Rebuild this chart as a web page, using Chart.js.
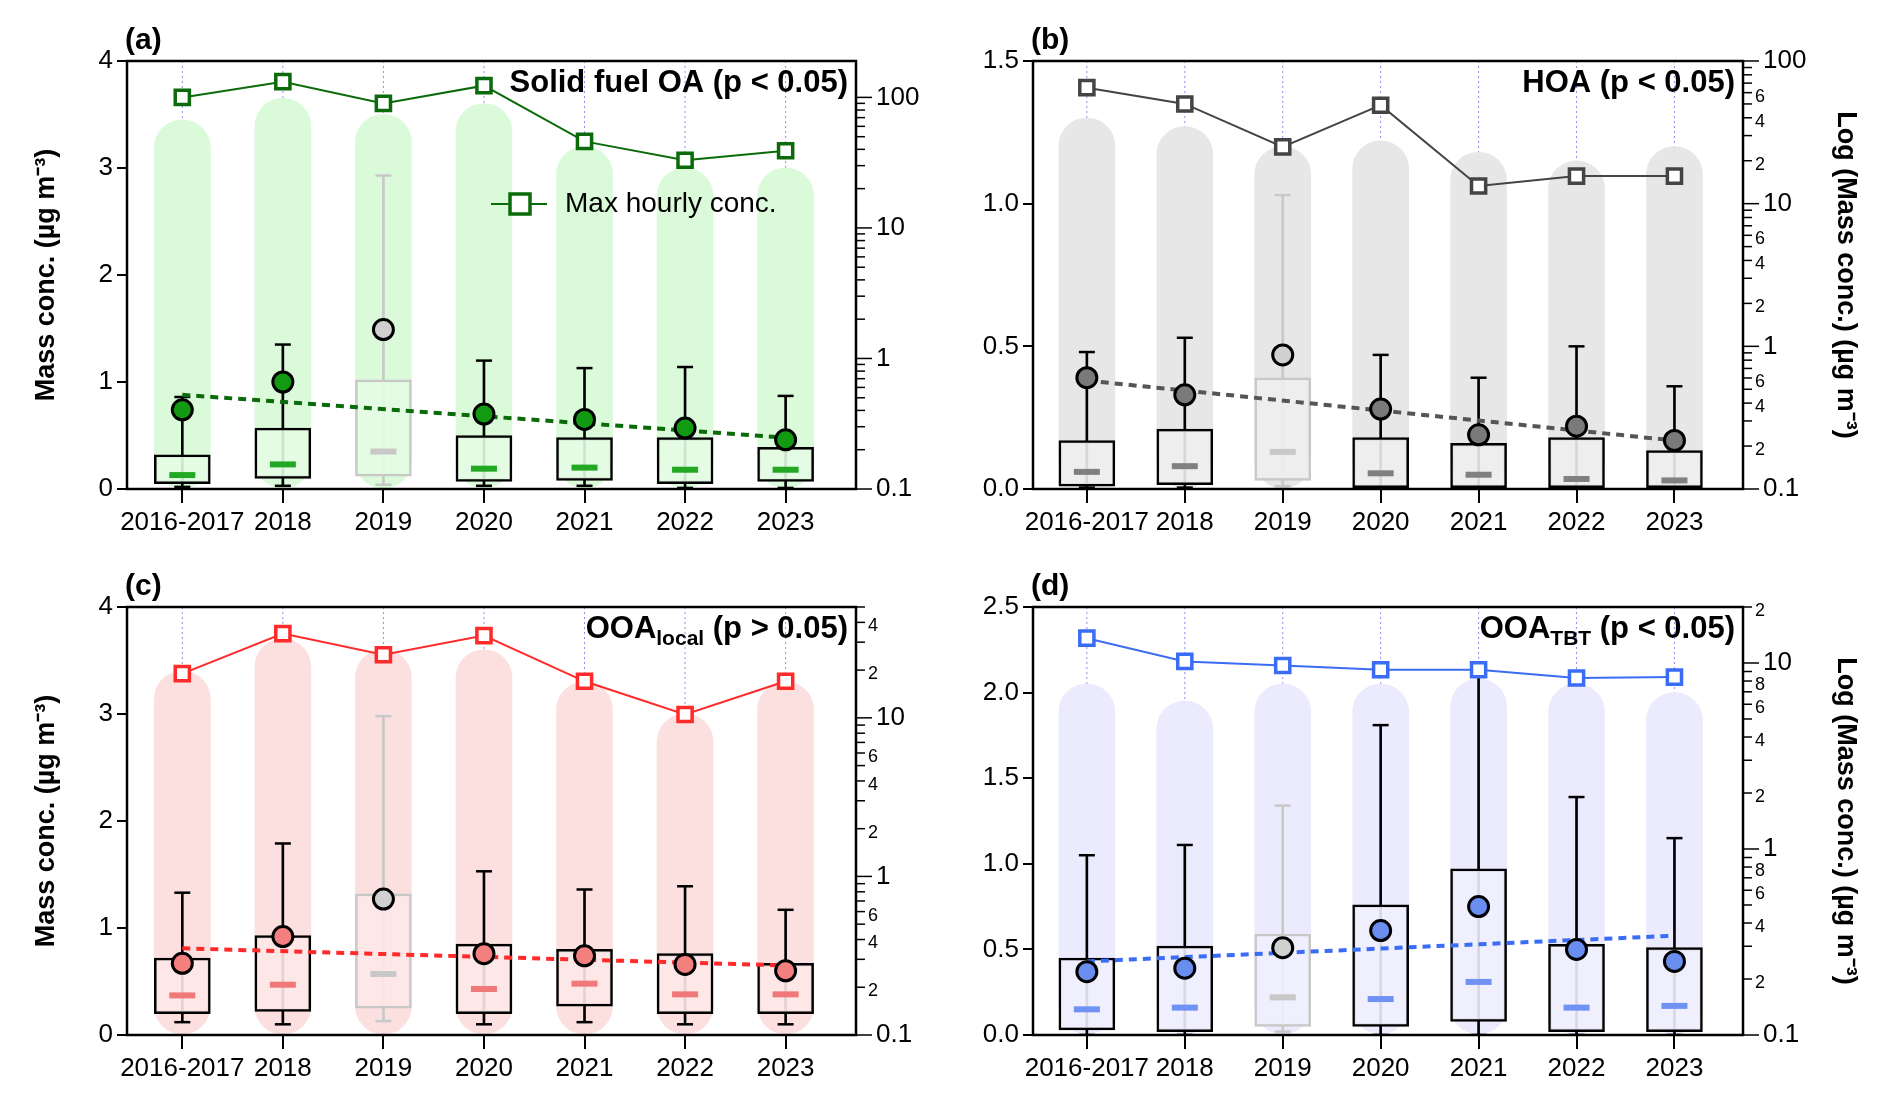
<!DOCTYPE html>
<html>
<head>
<meta charset="utf-8">
<script src="https://cdn.jsdelivr.net/npm/chart.js@4"></script>
<style>
  body { margin: 0; background: #fff; }
  .panel { position: absolute; }
</style>
</head>
<body>
<div class="panel" style="left:0;top:0;width:946px;height:549px"><canvas id="pa"></canvas></div>
<div class="panel" style="left:946px;top:0;width:946px;height:549px"><canvas id="pb"></canvas></div>
<div class="panel" style="left:0;top:549px;width:946px;height:550px"><canvas id="pc"></canvas></div>
<div class="panel" style="left:946px;top:549px;width:946px;height:550px"><canvas id="pd"></canvas></div>
<script>
var years = ["2016-2017", "2018", "2019", "2020", "2021", "2022", "2023"];

// (a) Solid fuel OA
var aLow = [0.02, 0.03, 0.04, 0.03, 0.03, 0.01, 0.01];
var aQ1 = [0.05, 0.10, 0.12, 0.07, 0.08, 0.05, 0.07];
var aMed = [0.13, 0.23, 0.35, 0.19, 0.20, 0.18, 0.18];
var aQ3 = [0.32, 0.57, 1.02, 0.50, 0.48, 0.48, 0.39];
var aHigh = [0.86, 1.35, 2.93, 1.20, 1.13, 1.14, 0.87];
var aMean = [0.74, 1.00, 1.49, 0.70, 0.65, 0.57, 0.46];
var aMax = [100, 132, 90, 123, 46, 33, 39];
var aCloud = [3.45, 3.65, 3.5, 3.6, 3.2, 3.0, 3.0];
var aTrend = [0.88, 0.48];

// (b) HOA
var bLow = [0.005, 0.005, 0.01, 0, 0, 0, 0];
var bQ1 = [0.01, 0.015, 0.03, 0.005, 0.005, 0.005, 0.005];
var bMed = [0.06, 0.08, 0.13, 0.055, 0.05, 0.035, 0.03];
var bQ3 = [0.17, 0.21, 0.39, 0.18, 0.16, 0.18, 0.135];
var bHigh = [0.48, 0.53, 1.03, 0.47, 0.39, 0.50, 0.36];
var bMean = [0.39, 0.33, 0.47, 0.28, 0.19, 0.22, 0.17];
var bMax = [65, 50, 25, 49, 13.3, 15.6, 15.6];
var bCloud = [1.3, 1.27, 1.2, 1.22, 1.18, 1.15, 1.2];
var bTrend = [0.38, 0.17];

// (c) OOA local
var cLow = [0.12, 0.10, 0.13, 0.10, 0.12, 0.10, 0.10];
var cQ1 = [0.20, 0.22, 0.25, 0.20, 0.27, 0.20, 0.20];
var cMed = [0.37, 0.47, 0.57, 0.43, 0.48, 0.38, 0.38];
var cQ3 = [0.72, 0.93, 1.32, 0.85, 0.80, 0.76, 0.67];
var cHigh = [1.33, 1.79, 2.98, 1.53, 1.36, 1.39, 1.17];
var cMean = [0.67, 0.92, 1.27, 0.76, 0.74, 0.66, 0.60];
var cMax = [19, 34, 25, 33, 17, 10.5, 17];
var cCloud = [3.4, 3.7, 3.6, 3.6, 3.3, 3.0, 3.3];
var cTrend = [0.81, 0.65];

// (d) OOA TBT
var dLow = [0, 0, 0.02, 0, 0, 0, 0];
var dQ1 = [0.03, 0.02, 0.05, 0.05, 0.08, 0.02, 0.02];
var dMed = [0.15, 0.16, 0.22, 0.21, 0.31, 0.16, 0.17];
var dQ3 = [0.45, 0.52, 0.59, 0.76, 0.97, 0.53, 0.51];
var dHigh = [1.05, 1.11, 1.34, 1.81, 2.10, 1.39, 1.15];
var dMean = [0.37, 0.39, 0.51, 0.61, 0.75, 0.50, 0.43];
var dMax = [13.6, 10.2, 9.7, 9.2, 9.2, 8.3, 8.4];
var dCloud = [2.05, 1.95, 2.05, 2.05, 2.08, 2.05, 2.0];
var dTrend = [0.43, 0.58];

var FONT = "'Liberation Sans', Arial, sans-serif";
var GREY = 2; // 2019 drawn in grey

function pts(arr) { return arr.map(function (v, i) { return { x: i, y: v }; }); }
function ranges(lo, hi) { return lo.map(function (v, i) { return { x: i, y: [v, hi[i]] }; }); }
function perYear(c, g) { return years.map(function (_, i) { return i === GREY ? g : c; }); }

var panelPlugin = {
  id: 'panelDeco',
  beforeDatasetsDraw: function (chart) {
    var ctx = chart.ctx, a = chart.chartArea, x = chart.scales.x;
    ctx.save();
    ctx.strokeStyle = '#8f8ff5';
    ctx.lineWidth = 1;
    ctx.setLineDash([2, 3]);
    years.forEach(function (_, i) {
      var px = x.getPixelForValue(i);
      ctx.beginPath(); ctx.moveTo(px, a.top); ctx.lineTo(px, a.bottom); ctx.stroke();
    });
    ctx.restore();
  },
  afterDraw: function (chart) {
    var o = chart.options.plugins.panelDeco, ctx = chart.ctx, a = chart.chartArea;
    ctx.save();
    ctx.strokeStyle = '#000'; ctx.lineWidth = 2.5;
    ctx.strokeRect(a.left, a.top, a.right - a.left, a.bottom - a.top);
    // right log axis ticks
    var y2 = chart.scales.y2;
    ctx.lineWidth = 1.5; ctx.fillStyle = '#000'; ctx.textBaseline = 'middle'; ctx.textAlign = 'left';
    for (var e = -1; e <= 3; e++) {
      for (var m = 1; m <= 9; m++) {
        var v = m * Math.pow(10, e);
        if (v < y2.min * 0.999 || v > y2.max * 1.001) continue;
        var py = y2.getPixelForValue(v);
        var len = m === 1 ? 16 : 9;
        ctx.beginPath(); ctx.moveTo(a.right, py); ctx.lineTo(a.right + len, py); ctx.stroke();
        if (m === 1) {
          ctx.font = '26px ' + FONT;
          ctx.fillText(String(+v.toPrecision(3)), a.right + 20, py);
        } else if (o.minorLabels.indexOf(m) >= 0) {
          ctx.font = '18px ' + FONT;
          ctx.fillText(String(m), a.right + 12, py + 4);
        }
      }
    }
    // panel letter
    ctx.font = 'bold 30px ' + FONT; ctx.textAlign = 'left'; ctx.textBaseline = 'alphabetic';
    ctx.fillText(o.letter, a.left - 2, a.top - 12);
    // panel title, right aligned
    var bigFont = 'bold 31px ' + FONT, subFont = 'bold 21px ' + FONT;
    ctx.font = bigFont;
    var w = ctx.measureText(o.title[0]).width + ctx.measureText(o.title[2]).width;
    ctx.font = subFont; w += ctx.measureText(o.title[1]).width;
    var tx = a.right - 8 - w, ty = a.top + 31;
    ctx.font = bigFont; ctx.fillText(o.title[0], tx, ty); tx += ctx.measureText(o.title[0]).width;
    ctx.font = subFont; ctx.fillText(o.title[1], tx, ty + 7); tx += ctx.measureText(o.title[1]).width;
    ctx.font = bigFont; ctx.fillText(o.title[2], tx, ty);
    if (o.legend) {
      var ly = a.top + 143, lx = a.left + 364;
      ctx.strokeStyle = o.legend; ctx.lineWidth = 2;
      ctx.beginPath(); ctx.moveTo(lx, ly); ctx.lineTo(lx + 56, ly); ctx.stroke();
      ctx.lineWidth = 3.5; ctx.fillStyle = '#fff';
      ctx.fillRect(lx + 19, ly - 10, 20, 20); ctx.strokeRect(lx + 19, ly - 10, 20, 20);
      ctx.fillStyle = '#000'; ctx.font = '28px ' + FONT; ctx.textBaseline = 'middle';
      ctx.fillText('Max hourly conc.', lx + 74, ly);
    }
    ctx.restore();
  }
};

function makePanel(id, d, st) {
  var leftW = st.leftW, rightW = st.rightW, botH = st.botH;
  new Chart(id, {
    data: {
      datasets: [
        { type: 'bar', data: ranges(years.map(function () { return 0; }), d.cloud), backgroundColor: st.cloud,
          barThickness: 56, borderRadius: 28, borderSkipped: false, grouped: false, order: 10 },
        { type: 'bar', data: ranges(d.low, d.high), backgroundColor: perYear('#000', '#c8c8c8'),
          barThickness: 2, grouped: false, order: 9 },
        { type: 'scatter', data: pts(d.high).concat(pts(d.low)), pointStyle: 'line', pointRadius: 8,
          borderWidth: 2.5, borderColor: perYear('#000', '#c8c8c8').concat(perYear('#000', '#c8c8c8')), order: 8 },
        { type: 'bar', data: ranges(d.q1, d.q3), backgroundColor: st.box, borderColor: perYear('#000', '#c8c8c8'),
          borderWidth: 2.5, borderSkipped: false, barThickness: 56, grouped: false, order: 7 },
        { type: 'scatter', data: pts(d.med), pointStyle: 'line', pointRadius: 13, borderWidth: 6,
          borderColor: perYear(st.med, '#c8c8c8'), order: 6 },
        { type: 'line', data: [{ x: 0, y: d.trend[0] }, { x: 6, y: d.trend[1] }], borderColor: st.trend,
          borderWidth: 4, borderDash: [8, 6], pointRadius: 0, order: 5 },
        { type: 'scatter', data: pts(d.mean), pointRadius: 10, borderWidth: 3, borderColor: '#000',
          backgroundColor: perYear(st.mean, '#d0d0d0'), order: 4 },
        { type: 'line', yAxisID: 'y2', data: pts(d.max), borderColor: st.line, borderWidth: 2,
          pointStyle: 'rect', pointRadius: 10, pointBorderWidth: 3.5, pointBackgroundColor: '#fff', order: 3 }
      ]
    },
    options: {
      responsive: true, maintainAspectRatio: false, animation: false,
      layout: { padding: { top: st.top, right: st.padR, left: st.padL, bottom: 0 } },
      plugins: { legend: { display: false }, tooltip: { enabled: false },
        panelDeco: { letter: st.letter, title: st.title, legend: st.legend, minorLabels: st.minorLabels } },
      scales: {
        x: { type: 'linear', min: -0.55, max: 6.7, offset: false,
          afterBuildTicks: function (s) { s.ticks = years.map(function (_, i) { return { value: i }; }); },
          afterFit: function (s) { s.height = botH; },
          ticks: { callback: function (v) { return years[v]; }, color: '#000', font: { size: 26, family: FONT }, maxRotation: 0, autoSkip: false, padding: 4 },
          grid: { drawOnChartArea: false, offset: false, color: '#000', lineWidth: 2, tickLength: 14 }, border: { display: false } },
        y: { min: 0, max: st.ymax, position: 'left',
          afterBuildTicks: function (s) { s.ticks = st.yticks.map(function (v) { return { value: v }; }); },
          afterFit: function (s) { s.width = leftW; },
          ticks: { callback: function (v) { return st.yfmt(v); }, color: '#000', font: { size: 26, family: FONT }, padding: 4 },
          grid: { drawOnChartArea: false, color: '#000', lineWidth: 2, tickLength: 10 }, border: { display: false },
          title: { display: st.leftTitle, text: 'Mass conc. (\u00b5g m\u207b\u00b3)', color: '#000', padding: 0, font: { size: 27, weight: 'bold', family: FONT } } },
        y2: { type: 'logarithmic', min: 0.1, max: st.y2max, position: 'right',
          afterFit: function (s) { s.width = rightW; },
          ticks: { display: false }, grid: { display: false }, border: { display: false },
          title: { display: st.rightTitle, text: 'Log (Mass conc.) (\u00b5g m\u207b\u00b3)', color: '#000', padding: 0,
            font: { size: 27, weight: 'bold', family: FONT } } }
      }
    },
    plugins: [panelPlugin]
  });
}

var fmt0 = function (v) { return String(v); };
var fmt1 = function (v) { return v.toFixed(1); };

makePanel('pa', { low: aLow, q1: aQ1, med: aMed, q3: aQ3, high: aHigh, mean: aMean, max: aMax, cloud: aCloud, trend: aTrend },
  { padL: 30, leftW: 97, padR: 0, rightW: 90, botH: 60, top: 61, letter: '(a)', title: ['Solid fuel OA (p < 0.05)', '', ''], legend: '#0b6b0b',
    minorLabels: [], cloud: 'rgba(216,250,216,0.95)', box: 'rgba(228,252,228,0.9)', med: '#22a822', trend: '#0b6b0b',
    mean: '#129a12', line: '#0b6b0b', ymax: 4, yticks: [0, 1, 2, 3, 4], yfmt: fmt0, y2max: 190, leftTitle: true, rightTitle: false });

makePanel('pb', { low: bLow, q1: bQ1, med: bMed, q3: bQ3, high: bHigh, mean: bMean, max: bMax, cloud: bCloud, trend: bTrend },
  { padL: 0, leftW: 87, padR: 30, rightW: 119, botH: 60, top: 61, letter: '(b)', title: ['HOA (p < 0.05)', '', ''], legend: null,
    minorLabels: [2, 4, 6], cloud: 'rgba(230,230,230,0.95)', box: 'rgba(238,238,238,0.9)', med: '#808080', trend: '#555',
    mean: '#7a7a7a', line: '#444', ymax: 1.5, yticks: [0, 0.5, 1, 1.5], yfmt: fmt1, y2max: 100, leftTitle: false, rightTitle: true });

makePanel('pc', { low: cLow, q1: cQ1, med: cMed, q3: cQ3, high: cHigh, mean: cMean, max: cMax, cloud: cCloud, trend: cTrend },
  { padL: 30, leftW: 97, padR: 0, rightW: 90, botH: 64, top: 58, letter: '(c)', title: ['OOA', 'local', ' (p > 0.05)'], legend: null,
    minorLabels: [2, 4, 6], cloud: 'rgba(252,222,222,0.95)', box: 'rgba(253,232,232,0.9)', med: '#f07878', trend: '#ff2a2a',
    mean: '#f47f7f', line: '#ff2a2a', ymax: 4, yticks: [0, 1, 2, 3, 4], yfmt: fmt0, y2max: 50, leftTitle: true, rightTitle: false });

makePanel('pd', { low: dLow, q1: dQ1, med: dMed, q3: dQ3, high: dHigh, mean: dMean, max: dMax, cloud: dCloud, trend: dTrend },
  { padL: 0, leftW: 87, padR: 30, rightW: 119, botH: 64, top: 58, letter: '(d)', title: ['OOA', 'TBT', ' (p < 0.05)'], legend: null,
    minorLabels: [2, 4, 6, 8], cloud: 'rgba(234,234,253,0.95)', box: 'rgba(240,240,253,0.9)', med: '#7092f5', trend: '#3a6cf5',
    mean: '#6a8ef0', line: '#3a6cf5', ymax: 2.5, yticks: [0, 0.5, 1, 1.5, 2, 2.5], yfmt: fmt1, y2max: 20, leftTitle: false, rightTitle: true });
</script>
</body>
</html>
